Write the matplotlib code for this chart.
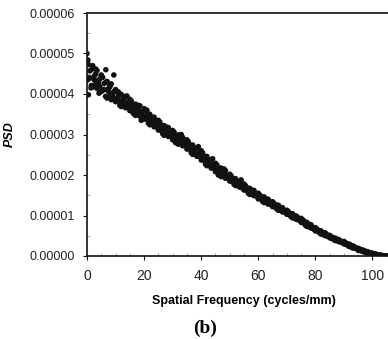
import numpy as np
import matplotlib
matplotlib.use("Agg")
import matplotlib.pyplot as plt
from matplotlib.ticker import MultipleLocator, FormatStrFormatter

# Spatial frequency grid (cycles/mm)
freq = [
    0.0, 0.5, 1.0, 1.5, 2.0, 2.5, 3.0, 3.5, 4.0, 4.5,
    5.0, 5.5, 6.0, 6.5, 7.0, 7.5, 8.0, 8.5, 9.0, 9.5,
    10.0, 10.5, 11.0, 11.5, 12.0, 12.5, 13.0, 13.5, 14.0, 14.5,
    15.0, 15.5, 16.0, 16.5, 17.0, 17.5, 18.0, 18.5, 19.0, 19.5,
    20.0, 20.5, 21.0, 21.5, 22.0, 22.5, 23.0, 23.5, 24.0, 24.5,
    25.0, 25.5, 26.0, 26.5, 27.0, 27.5, 28.0, 28.5, 29.0, 29.5,
    30.0, 30.5, 31.0, 31.5, 32.0, 32.5, 33.0, 33.5, 34.0, 34.5,
    35.0, 35.5, 36.0, 36.5, 37.0, 37.5, 38.0, 38.5, 39.0, 39.5,
    40.0, 40.5, 41.0, 41.5, 42.0, 42.5, 43.0, 43.5, 44.0, 44.5,
    45.0, 45.5, 46.0, 46.5, 47.0, 47.5, 48.0, 48.5, 49.0, 49.5,
    50.0, 50.5, 51.0, 51.5, 52.0, 52.5, 53.0, 53.5, 54.0, 54.5,
    55.0, 55.5, 56.0, 56.5, 57.0, 57.5, 58.0, 58.5, 59.0, 59.5,
    60.0, 60.5, 61.0, 61.5, 62.0, 62.5, 63.0, 63.5, 64.0, 64.5,
    65.0, 65.5, 66.0, 66.5, 67.0, 67.5, 68.0, 68.5, 69.0, 69.5,
    70.0, 70.5, 71.0, 71.5, 72.0, 72.5, 73.0, 73.5, 74.0, 74.5,
    75.0, 75.5, 76.0, 76.5, 77.0, 77.5, 78.0, 78.5, 79.0, 79.5,
    80.0, 80.5, 81.0, 81.5, 82.0, 82.5, 83.0, 83.5, 84.0, 84.5,
    85.0, 85.5, 86.0, 86.5, 87.0, 87.5, 88.0, 88.5, 89.0, 89.5,
    90.0, 90.5, 91.0, 91.5, 92.0, 92.5, 93.0, 93.5, 94.0, 94.5,
    95.0, 95.5, 96.0, 96.5, 97.0, 97.5, 98.0, 98.5, 99.0, 99.5,
    100.0, 100.5, 101.0, 101.5, 102.0, 102.5, 103.0, 103.5, 104.0, 104.5,
    105.0,
]
# PSD, first estimate, in units of 1e-7
psd_a_e7 = [
    480, 437, 457, 421, 463, 435, 449, 414, 434, 418,
    447, 409, 426, 394, 431, 406, 418, 386, 403, 389,
    411, 383, 395, 372, 399, 380, 389, 366, 378, 368,
    387, 361, 373, 350, 375, 358, 367, 345, 356, 346,
    364, 339, 348, 328, 350, 333, 340, 319, 329, 319,
    335, 312, 321, 302, 322, 307, 315, 295, 304, 295,
    310, 289, 297, 279, 299, 284, 290, 272, 281, 272,
    287, 265, 274, 255, 274, 259, 265, 246, 254, 246,
    260, 238, 246, 227, 246, 231, 236, 217, 225, 216,
    229, 209, 216, 200, 217, 204, 208, 192, 199, 192,
    202, 186, 191, 177, 191, 179, 184, 170, 176, 168,
    178, 163, 168, 155, 167, 157, 162, 149, 153, 147,
    155, 142, 146, 135, 146, 137, 140, 128, 133, 127,
    134, 122, 126, 116, 125, 117, 120, 109, 113, 107,
    113, 103, 106, 97, 104, 97, 99, 90, 93, 88,
    93, 83, 86, 76, 83, 76, 78, 69, 71, 66,
    70, 62, 63, 57, 62, 56, 57, 50, 52, 48,
    51, 44, 46, 40, 44, 39, 41, 35, 36, 33,
    36, 29, 31, 25, 29, 24, 25, 20, 20, 18,
    19, 15, 16, 12, 14, 11, 11, 8, 8, 6,
    7, 5, 5, 3, 3, 2, 2, 1, 0, 0,
    0,
]
# PSD, second estimate, in units of 1e-7
psd_b_e7 = [
    434, 473, 440, 460, 417, 444, 424, 458, 427, 437,
    406, 441, 411, 428, 390, 413, 395, 425, 398, 406,
    381, 406, 384, 397, 369, 385, 372, 394, 373, 379,
    359, 383, 362, 373, 347, 363, 350, 371, 351, 357,
    338, 359, 339, 349, 324, 338, 325, 343, 326, 330,
    311, 331, 312, 322, 298, 312, 300, 317, 301, 304,
    287, 306, 288, 297, 276, 287, 277, 293, 278, 281,
    264, 282, 265, 273, 251, 262, 252, 267, 251, 255,
    237, 255, 237, 245, 223, 234, 223, 238, 222, 225,
    208, 225, 209, 217, 196, 207, 197, 211, 196, 199,
    185, 198, 184, 190, 174, 182, 173, 185, 173, 175,
    163, 174, 163, 167, 152, 160, 152, 162, 150, 152,
    141, 151, 141, 145, 132, 138, 131, 140, 130, 132,
    122, 130, 121, 125, 113, 118, 112, 119, 110, 111,
    103, 110, 101, 104, 94, 98, 92, 98, 90, 91,
    83, 90, 81, 83, 73, 77, 71, 77, 68, 69,
    62, 67, 61, 62, 54, 57, 52, 57, 51, 51,
    45, 48, 43, 44, 38, 40, 36, 39, 35, 34,
    30, 33, 28, 29, 23, 25, 20, 24, 19, 19,
    14, 17, 13, 14, 10, 10, 8, 10, 7, 7,
    4, 5, 4, 4, 2, 2, 1, 1, 0, 0,
    0,
]
# Scattered extra points
freq_extra = [0.0, 0.3, 0.2, 0.5, 1.4, 4.2, 6.6, 9.4, 3.0, 2.0, 5.0, 7.0, 8.0,
              11.0, 12.0, 14.0, 16.0, 18.0, 19.0, 21.0, 24.0, 26.0, 28.0,
              31.0, 33.0, 37.0, 39.0, 42.0, 44.0, 46.0, 48.0, 52.0, 54.0,
              57.0, 63.0, 67.0, 72.0, 77.0]
psd_extra_e7 = [500, 484, 440, 398, 415, 402, 460, 447, 462, 470, 445, 430, 420,
                405, 380, 395, 355, 372, 335, 360, 335, 310, 318,
                280, 300, 262, 270, 235, 240, 200, 215, 180, 188,
                160, 140, 125, 104, 80]

x_ticks = [0, 20, 40, 60, 80, 100]
y_ticks = [0.0, 0.00001, 0.00002, 0.00003, 0.00004, 0.00005, 0.00006]

fig = plt.figure(figsize=(3.88, 3.39), dpi=100)
# axes extend past the right figure edge (right spine is cut off)
ax = fig.add_axes([87 / 388, 1 - 256 / 339, (401 - 87) / 388, (256 - 13) / 339])

x_all = np.array(freq + freq + freq_extra)
y_all = np.array(psd_a_e7 + psd_b_e7 + psd_extra_e7) * 1e-7
ax.scatter(x_all, y_all, s=16, color="#111111", edgecolors="none", zorder=3)

ax.set_xlim(0, 110)
ax.set_ylim(0, 0.00006)
ax.set_xticks(x_ticks)
ax.set_yticks(y_ticks)
ax.yaxis.set_major_formatter(FormatStrFormatter("%.5f"))
ax.yaxis.set_minor_locator(MultipleLocator(0.000005))
ax.xaxis.set_minor_locator(MultipleLocator(5))

ax.spines["right"].set_visible(False)
for s in ["left", "bottom", "top"]:
    ax.spines[s].set_linewidth(1.2)
    ax.spines[s].set_color("#111111")

ax.tick_params(axis="both", which="major", direction="out", length=3, width=0.8,
               colors="#111111", pad=6)
ax.tick_params(axis="y", which="major", labelsize=9)
ax.tick_params(axis="x", which="major", labelsize=10)
ax.tick_params(axis="both", which="minor", direction="in", length=2, width=0.6, colors="#999999")
for lab in ax.get_xticklabels() + ax.get_yticklabels():
    lab.set_family("Liberation Sans")
    lab.set_color("#222222")

ax.set_xlabel("Spatial Frequency (cycles/mm)", fontsize=9, fontweight="bold",
              family="Liberation Sans", labelpad=9)
ax.set_ylabel("PSD", fontsize=9, fontweight="bold", style="italic",
              family="Liberation Sans")
ax.yaxis.set_label_coords(-(87 - 16) / 314, 0.5)

fig.text(205 / 388, 1 - 328 / 339, "(b)", fontsize=14, fontweight="bold",
         family="Liberation Serif", ha="center", va="center")

fig.savefig("out.png", dpi=100)
